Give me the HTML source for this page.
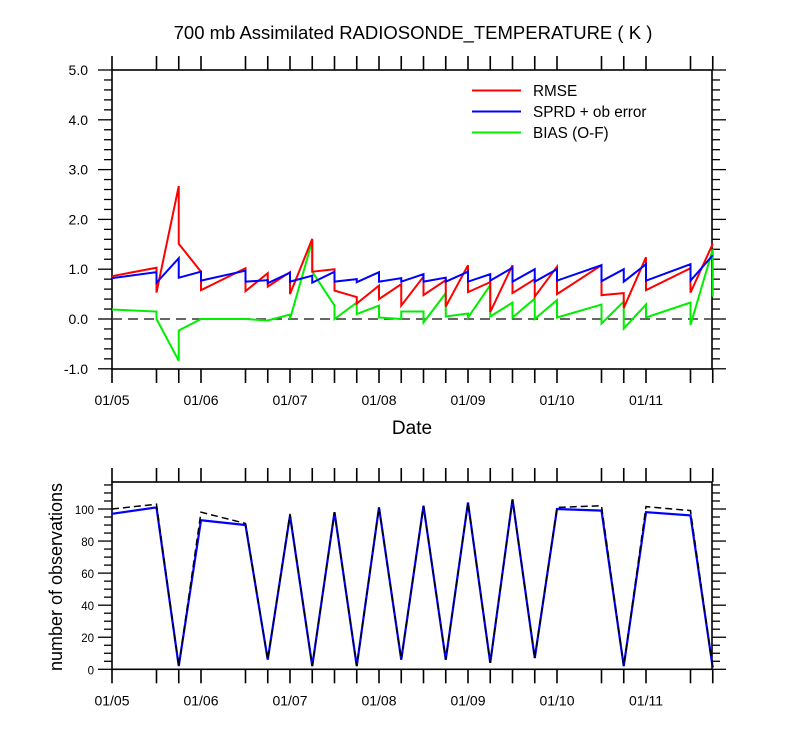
<!DOCTYPE html>
<html><head><meta charset="utf-8"><style>
html,body{margin:0;padding:0;background:#fff;}
svg{display:block;font-family:"Liberation Sans",Arial,sans-serif;}
</style></head><body>
<svg id="c" width="800" height="750" viewBox="0 0 800 750">
<text x="413" y="39" font-size="18.5" text-anchor="middle">700 mb Assimilated RADIOSONDE_TEMPERATURE ( K )</text>
<text x="412" y="434" font-size="19" text-anchor="middle">Date</text>
<text transform="translate(62,577) rotate(-90)" font-size="18" text-anchor="middle">number of observations</text>
<g>
<line x1="472" y1="90.5" x2="521" y2="90.5" stroke="#ff0000" stroke-width="2"/>
<text x="533" y="96" font-size="15.3">RMSE</text>
<line x1="472" y1="111.5" x2="521" y2="111.5" stroke="#0000ff" stroke-width="2"/>
<text x="533" y="117" font-size="15.3">SPRD + ob error</text>
<line x1="472" y1="132.5" x2="521" y2="132.5" stroke="#00ee00" stroke-width="2"/>
<text x="533" y="138" font-size="15.3">BIAS (O-F)</text>
</g>
</svg>
<script>
// time (days from 01/05) of each sample; each sample has arrival and departure value
const times = [0,0.5,0.75,1,1.5,1.75,2,2.25,2.5,2.75,3,3.25,3.5,3.75,4,4.25,4.5,4.75,5,5.5,5.75,6,6.5,6.75];
const rmseIn  = [0.86,1.03,2.67,0.95,1.02,0.92,0.94,1.61,1.00,0.44,0.67,0.70,0.85,0.78,1.08,0.74,1.08,0.80,1.05,1.08,0.52,1.24,1.02,1.51];
const rmseOut = [0.86,0.53,1.51,0.58,0.56,0.65,0.50,0.95,0.57,0.31,0.40,0.27,0.48,0.25,0.54,0.14,0.52,0.45,0.50,0.48,0.22,0.58,0.53,1.51];
const sprdIn  = [0.82,0.94,1.22,0.95,0.97,0.78,0.93,0.87,0.95,0.80,0.94,0.82,0.90,0.83,0.95,0.90,1.03,1.00,1.00,1.08,1.00,1.10,1.10,1.28];
const sprdOut = [0.82,0.73,0.83,0.77,0.75,0.72,0.75,0.73,0.75,0.74,0.75,0.75,0.75,0.75,0.75,0.77,0.75,0.75,0.77,0.76,0.75,0.77,0.77,1.28];
const biasIn  = [0.19,0.15,-0.84,0.00,0.00,-0.03,0.09,1.57,0.27,0.33,0.27,0.00,0.15,0.52,0.11,0.68,0.33,0.41,0.38,0.29,0.35,0.29,0.33,1.40];
const biasOut = [0.19,0.00,-0.23,0.00,0.00,-0.03,0.00,0.95,0.00,0.10,0.03,0.15,-0.07,0.05,0.03,0.05,0.03,0.00,0.03,-0.09,-0.19,0.03,-0.12,0.45];
const obsUsed = [97,101,2,93,90,6,96,2,98,2,101,6,102,6,104,4,106,7,100,99,2,98,96,1];
const obsPoss = [100,103,2,98,91,6,97,2,98,2,101,6,102,6,104,4,106,7,101,102,2,101.5,99,1];
const dateLabels = ["01/05","01/06","01/07","01/08","01/09","01/10","01/11"];
const topYTicks = ["-1.0","0.0","1.0","2.0","3.0","4.0","5.0"];
const botYTicks = ["0","20","40","60","80","100"];

const NS="http://www.w3.org/2000/svg";
const svg=document.getElementById('c');
const X0=112,X1=712,DAY=89;
const xs=t=>X0+t*DAY;
const topY=v=>319-v*49.8;
const botY=v=>669.3-v*1.603;
function mk(tag,attrs,parent){const e=document.createElementNS(NS,tag);for(const k in attrs)e.setAttribute(k,attrs[k]);(parent||svg).appendChild(e);return e;}

function axes(yT,yB,yfn,yMin,yMax,majStep,minStep,labels,fs,name){
  const g=mk('g',{});
  
  
  mk('rect',{x:X0,y:yT,width:X1-X0,height:yB-yT,fill:'none',stroke:'#000','stroke-width':1.6},g);
  times.forEach(t=>{
    const x=xs(t);
    mk('line',{x1:x,y1:yB,x2:x,y2:yB+14,stroke:'#000','stroke-width':1.6},g);
    mk('line',{x1:x,y1:yT,x2:x,y2:yT-14,stroke:'#000','stroke-width':1.6},g);
  });
  dateLabels.forEach((d,i)=>{
    const tx=mk('text',{x:xs(i),y:yB+36,'font-size':14,'text-anchor':'middle'},g);
    tx.textContent=d;
    
    
  });
  for(let v=yMin;v<=yMax+1e-6;v+=minStep){
    const y=yfn(v);
    const major=Math.abs(Math.round(v/majStep)*majStep-v)<1e-6;
    const L=major?14:8;
    mk('line',{x1:X0,y1:y,x2:X0-L,y2:y,stroke:'#000','stroke-width':1.3},g);
    mk('line',{x1:X1,y1:y,x2:X1+L,y2:y,stroke:'#000','stroke-width':1.3},g);
  }
  labels.forEach(l=>{
    const tx=mk('text',{x:X0-(fs>12?24:18),y:yfn(parseFloat(l))+5,'font-size':fs,'text-anchor':'end'},g);
    tx.textContent=l;
    
    
  });
}
axes(70,369,topY,-1,5,1,0.2,topYTicks,14,'top');
axes(482,669.3,botY,0,116,20,5,botYTicks,11.5,'bottom');

const zl=mk('line',{x1:X0,y1:topY(0),x2:X1,y2:topY(0),stroke:'#333','stroke-width':1.6,'stroke-dasharray':'10,6'});



function series(inA,outA,color,name){
  const pts=[];
  times.forEach((t,i)=>{pts.push(xs(t)+','+topY(inA[i]));pts.push(xs(t)+','+topY(outA[i]));});
  const p=mk('polyline',{points:pts.join(' '),fill:'none',stroke:color,'stroke-width':2});
  
  
}
series(biasIn,biasOut,'#00ee00','bias-line');
series(rmseIn,rmseOut,'#ff0000','rmse-line');
series(sprdIn,sprdOut,'#0000ff','sprd-line');

const pu=mk('polyline',{points:times.map((t,i)=>xs(t)+','+botY(obsUsed[i])).join(' '),fill:'none',stroke:'#0000ff','stroke-width':2.2});


const pp=mk('polyline',{points:times.map((t,i)=>xs(t)+','+botY(obsPoss[i])).join(' '),fill:'none',stroke:'#000','stroke-width':1.5,'stroke-dasharray':'7,4'});


</script>
</body></html>
